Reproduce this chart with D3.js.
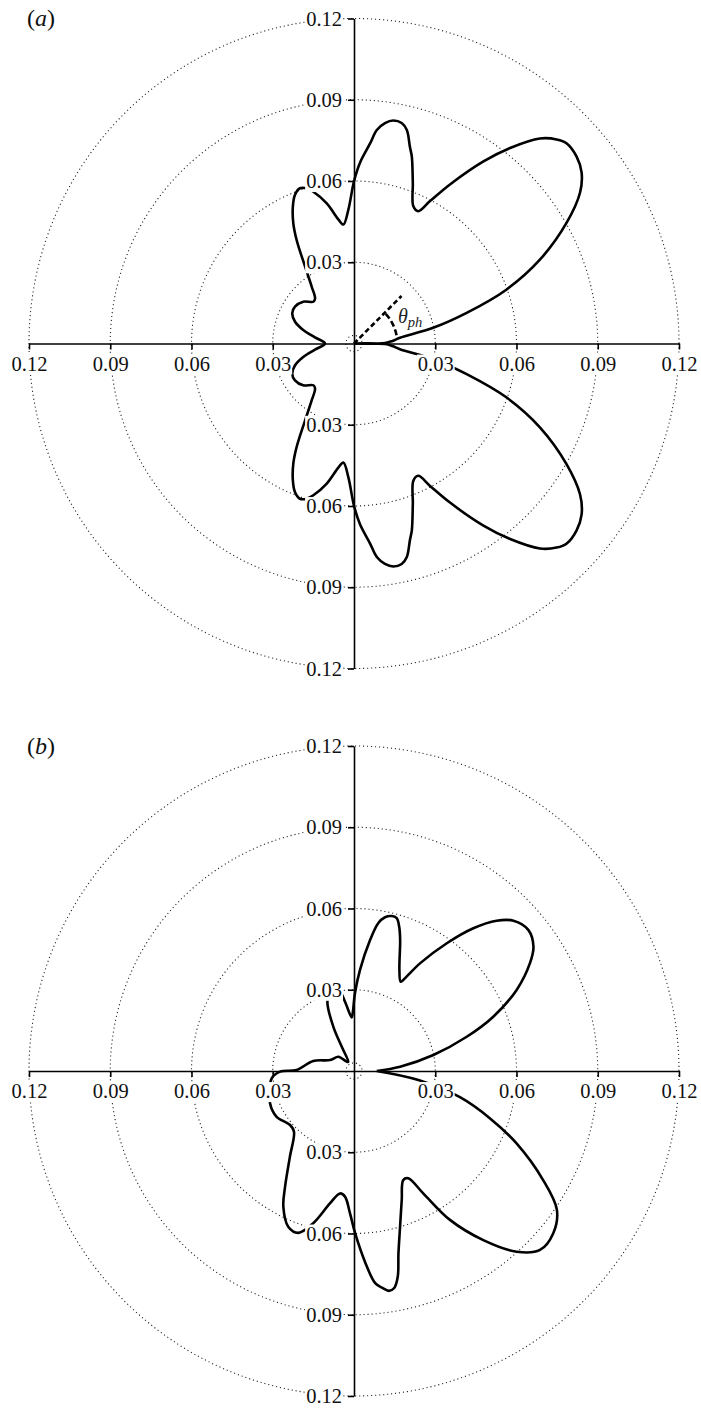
<!DOCTYPE html>
<html>
<head>
<meta charset="utf-8">
<script src="https://cdn.jsdelivr.net/npm/d3@7"></script>
<style>
  body { margin: 0; background: #fff; }
  svg { display: block; }
</style>
</head>
<body>
<svg id="chart" width="701" height="1409"></svg>
<script>
(function () {
  'use strict';

  // axis ticks, both directions
  var tickVals = [-0.12, -0.09, -0.06, -0.03, 0.03, 0.06, 0.09, 0.12];
  // dotted rings
  var ringVals = [0.003, 0.03, 0.06, 0.09, 0.12];

  // panel (a), theta in degrees, r
  var thetaAUpper = [0, 1, 3.7, 7.1, 11.2, 15.2, 19.5, 24.3, 29.6, 33.7, 36.9, 40, 43.3, 45.2, 47.8, 51.4, 54.6, 58.9, 61.9, 64.1,
    66.6, 69.9, 72.8, 74.1, 76.1, 77.8, 80, 82, 83.9, 85.4, 88.1, 90, 92.4, 95.1, 97.2, 101, 105, 107, 109.2, 111.7,
    114.1, 116.8, 119, 122.4, 126.7, 130.8, 134.2, 140.5, 148, 153.9, 159.7, 165.1, 171, 180];
  var rAUpper = [0, 0.0115, 0.0142, 0.0171, 0.0298, 0.0431, 0.0598, 0.0754, 0.0903, 0.1003, 0.1051, 0.1073, 0.1078, 0.1062, 0.1022, 0.0924, 0.0825, 0.0686, 0.0596, 0.0543,
    0.0552, 0.0632, 0.0722, 0.0754, 0.0812, 0.0833, 0.0836, 0.0822, 0.0793, 0.0741, 0.0668, 0.0599, 0.0495, 0.0441, 0.0462, 0.0527, 0.058, 0.0599, 0.0607, 0.059,
    0.0553, 0.0497, 0.0437, 0.0338, 0.0261, 0.022, 0.0215, 0.0243, 0.0257, 0.0254, 0.0232, 0.0194, 0.0146, 0.0107];
  var thetaALower = [189, 194.9, 200.3, 206.1, 212, 219.5, 225.8, 229.2, 233.3, 237.6, 241, 243.2, 245.9, 248.3, 250.8, 253, 255, 259, 262.8, 264.9,
    267.6, 270, 271.9, 274.6, 276.1, 278, 280, 282.2, 283.9, 285.9, 287.2, 290.1, 293.4, 295.9, 298.1, 301.1, 305.4, 308.6, 312.2, 314.8,
    316.7, 320, 323.1, 326.3, 330.4, 335.7, 340.5, 344.8, 348.8, 352.9, 356.3, 359, 360];
  var rALower = [0.0146, 0.0194, 0.0232, 0.0254, 0.0257, 0.0243, 0.0215, 0.022, 0.0261, 0.0338, 0.0437, 0.0497, 0.0553, 0.059, 0.0607, 0.0599, 0.058, 0.0527, 0.0462, 0.0441,
    0.0495, 0.0599, 0.0668, 0.0741, 0.0793, 0.0822, 0.0836, 0.0833, 0.0812, 0.0754, 0.0722, 0.0632, 0.0552, 0.0543, 0.0596, 0.0686, 0.0825, 0.0924, 0.1022, 0.1062,
    0.1078, 0.1073, 0.1051, 0.1003, 0.0903, 0.0754, 0.0598, 0.0431, 0.0298, 0.0171, 0.0142, 0.0115, 0];

  // panel (b)
  var thetaB = [0, 5.3, 11.4, 16.9, 21.3, 26.5, 31.5, 34.7, 39, 43.3, 46.5, 50.1, 54, 58.5, 61.2, 62.4, 65.8, 70.6, 72.6, 74.4,
    76.3, 78.6, 80.7, 83, 86.6, 89.3, 91.3, 92.5, 97.4, 101, 106, 111, 115, 116.8, 122, 128, 137.7, 155.4, 166.2, 179,
    180.5, 185.1, 201, 210.6, 220.2, 225.3, 233.2, 239.2, 242.5, 247.1, 251, 255, 259.7, 263.5, 265.9, 268.4, 270.4, 273.3, 275.7, 277.5,
    279, 280.5, 282, 283.7, 286.5, 290.3, 294.3, 296.8, 299.5, 302.8, 307.4, 312, 316.1, 320.8, 325.6, 330, 336, 340.8, 346.1, 352,
    360];
  var rB = [0.0084, 0.0171, 0.0299, 0.0435, 0.0552, 0.0671, 0.0762, 0.0806, 0.0828, 0.0809, 0.0765, 0.0687, 0.0583, 0.0466, 0.0391, 0.0372, 0.0409, 0.0513, 0.0558, 0.0586,
    0.0589, 0.0579, 0.0553, 0.0487, 0.0374, 0.0287, 0.0213, 0.0198, 0.0258, 0.031, 0.031, 0.0274, 0.0181, 0.010, 0.004, 0.0044, 0.0078, 0.0097, 0.0155, 0.0212,
    0.0273, 0.0305, 0.0332, 0.0332, 0.0309, 0.0315, 0.0395, 0.0497, 0.0565, 0.0624, 0.0632, 0.0582, 0.0497, 0.0455, 0.0465, 0.0526, 0.0599, 0.0706, 0.0787, 0.0808,
    0.0822, 0.0815, 0.0777, 0.0693, 0.0599, 0.0508, 0.0442, 0.0444, 0.0519, 0.0654, 0.0786, 0.0898, 0.0953, 0.0949, 0.0908, 0.0807, 0.0657, 0.0532, 0.0403, 0.024,
    0.0084];

  // theta_ph marker in (a)
  var phAngle = 45, phLen = 0.0248, phArcR = 0.016, phArcEnd = 9;

  var R = 325;
  var font = '"Liberation Serif", "Times New Roman", serif';
  var rScale = d3.scaleLinear().domain([0, 0.12]).range([0, R]);
  var xScale = d3.scaleLinear().domain([-0.12, 0.12]).range([-R, R]);
  var yScale = d3.scaleLinear().domain([-0.12, 0.12]).range([R, -R]);
  var rad = Math.PI / 180;

  var svg = d3.select('#chart');
  svg.append('rect').attr('width', 701).attr('height', 1409).attr('fill', '#fff');

  var panels = [
    {name: 'a', cx: 354, cy: 343.5, theta: thetaAUpper.concat(thetaALower), r: rAUpper.concat(rALower), marker: true},
    {name: 'b', cx: 354, cy: 1071, theta: thetaB, r: rB, marker: false}
  ];

  var line = d3.lineRadial()
    .angle(function(d){ return (90 - d[0]) * rad; })
    .radius(function(d){ return rScale(d[1]); })
    .curve(d3.curveCatmullRom.alpha(0.5));

  panels.forEach(function(p) {
    var g = svg.append('g').attr('transform', 'translate(' + p.cx + ',' + p.cy + ')');

    g.selectAll('circle.ring').data(ringVals).enter().append('circle')
      .attr('class', 'ring')
      .attr('r', function(d){ return rScale(d); })
      .attr('fill', 'none')
      .attr('stroke', '#222')
      .attr('stroke-width', 1.1)
      .attr('stroke-dasharray', '1.1,2.9');

    var pts = p.theta.map(function(t, i){ return [t, p.r[i]]; });
    g.append('path')
      .attr('d', line(pts))
      .attr('fill', 'none')
      .attr('stroke', '#000')
      .attr('stroke-width', 2.6)
      .attr('stroke-linejoin', 'round');

    if (p.marker) {
      var ex = rScale(phLen) * Math.cos(phAngle * rad), ey = -rScale(phLen) * Math.sin(phAngle * rad);
      g.append('line')
        .attr('x1', 0).attr('y1', 0).attr('x2', ex).attr('y2', ey)
        .attr('stroke', '#000').attr('stroke-width', 2.6).attr('stroke-dasharray', '5,3');
      var arc = d3.path();
      arc.arc(0, 0, rScale(phArcR), -(phAngle - 2) * rad, -phArcEnd * rad, false);
      g.append('path').attr('d', arc.toString())
        .attr('fill', 'none').attr('stroke', '#000').attr('stroke-width', 2.6).attr('stroke-dasharray', '6,3');
      var lab = g.append('text')
        .attr('x', 44).attr('y', -21)
        .attr('font-family', font).attr('font-style', 'italic').attr('fill', '#222');
      lab.append('tspan').attr('font-size', 20).text('θ');
      lab.append('tspan').attr('font-size', 14.5).attr('dy', 4).text('ph');
    }

    var fmt = function(d){ return d3.format('.2f')(Math.abs(d)); };
    var xAxis = g.append('g').call(d3.axisBottom(xScale).tickValues(tickVals).tickFormat(fmt)
      .tickSize(6).tickSizeOuter(0).tickPadding(6.5));
    var yAxis = g.append('g').call(d3.axisLeft(yScale).tickValues(tickVals).tickFormat(fmt)
      .tickSize(6).tickSizeOuter(0).tickPadding(6));

    [xAxis, yAxis].forEach(function(ax) {
      ax.attr('font-family', font).attr('font-size', 20.5);
      ax.selectAll('path.domain, .tick line').attr('stroke', '#000').attr('stroke-width', 1.6);
      ax.selectAll('.tick text').attr('fill', '#111');
      // white patch behind the labels, like the original
      ax.selectAll('.tick').each(function() {
        var b = d3.select(this).select('text').node().getBBox();
        d3.select(this).insert('rect', 'text')
          .attr('x', b.x - 1).attr('y', b.y + 2).attr('width', b.width + 2).attr('height', b.height - 2)
          .attr('fill', '#fff');
      });
    });

    var title = svg.append('text')
      .attr('x', 27).attr('y', p.cy - 317.5)
      .attr('font-family', font).attr('font-size', 24).attr('fill', '#111');
    title.append('tspan').text('(');
    title.append('tspan').attr('font-style', 'italic').text(p.name);
    title.append('tspan').text(')');
  });
}());
</script>
</body>
</html>
